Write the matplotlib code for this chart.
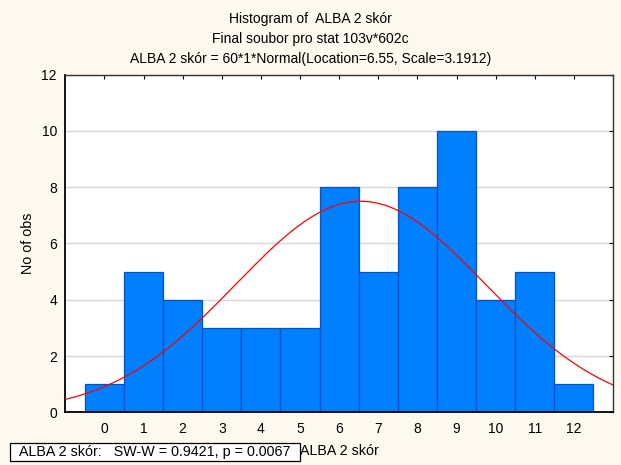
import numpy as np
import matplotlib.pyplot as plt
from matplotlib.patches import Rectangle

# data
scores = np.arange(0, 13)
counts = [1, 5, 4, 3, 3, 3, 8, 5, 8, 10, 4, 5, 1]
n_obs = 60
bin_width = 1
loc, scale = 6.55, 3.1912
sw_w, sw_p = 0.9421, 0.0067
var_name = "ALBA 2 skór"

plt.rcParams["font.family"] = ["Liberation Sans", "DejaVu Sans"]

W, H = 621, 465
fig = plt.figure(figsize=(W / 100, H / 100), dpi=100, facecolor="#fdf9ef")
ax = fig.add_axes([65.3 / W, 1 - 412.3 / H, (613 - 65.3) / W, (412.3 - 74.7) / H])
ax.set_facecolor("white")

ax.bar(scores, counts, width=1.0, color="#0080ff", edgecolor="#0a4fc4",
       linewidth=0.9, zorder=2)

# fitted normal curve
xs = np.linspace(-1, 13, 400)
pdf = np.exp(-0.5 * ((xs - loc) / scale) ** 2) / (scale * np.sqrt(2 * np.pi))
ax.plot(xs, n_obs * bin_width * pdf, color="#ff0000", linewidth=0.9, zorder=3)

ax.set_xlim(-1, 13)
ax.set_ylim(0, 12)
ax.set_xticks(scores)
ax.set_yticks(np.arange(0, 13, 2))
ax.yaxis.grid(True, color="#d8d8d8", linewidth=1.0, zorder=0)
ax.set_axisbelow(True)
ax.tick_params(direction="in", length=3, width=0.8, labelsize=10,
               top=True, right=True, left=False, colors="black")
ax.tick_params(axis="x", pad=6.8)
ax.tick_params(axis="y", pad=6)
for side in ["left", "bottom"]:
    ax.spines[side].set_linewidth(1.3)
for side in ["top", "right"]:
    ax.spines[side].set_linewidth(1.0)
    ax.spines[side].set_color("#333333")

ax.set_ylabel("No of obs", fontsize=10.3, labelpad=5)
ax.set_xlabel(var_name, fontsize=10.3, labelpad=5.7)

title_lines = [
    f"Histogram of  {var_name}",
    "Final soubor pro stat 103v*602c",
    f"{var_name} = {n_obs}*1*Normal(Location={loc}, Scale={scale})",
]
for line, y in zip(title_lines, [18.5, 38.8, 59]):
    fig.text(0.5, 1 - y / H, line, ha="center", va="center", fontsize=10)

# Shapiro-Wilk result box
fig.add_artist(Rectangle((10 / W, 1 - 461 / H), 290 / W, 18 / H, transform=fig.transFigure,
                         facecolor="white", edgecolor="black", linewidth=0.9))
fig.text(19 / W, 1 - 452 / H, f"{var_name}:   SW-W = {sw_w}, p = {sw_p}",
         ha="left", va="center", fontsize=10.3)

fig.savefig("out.png", dpi=100, facecolor=fig.get_facecolor())
